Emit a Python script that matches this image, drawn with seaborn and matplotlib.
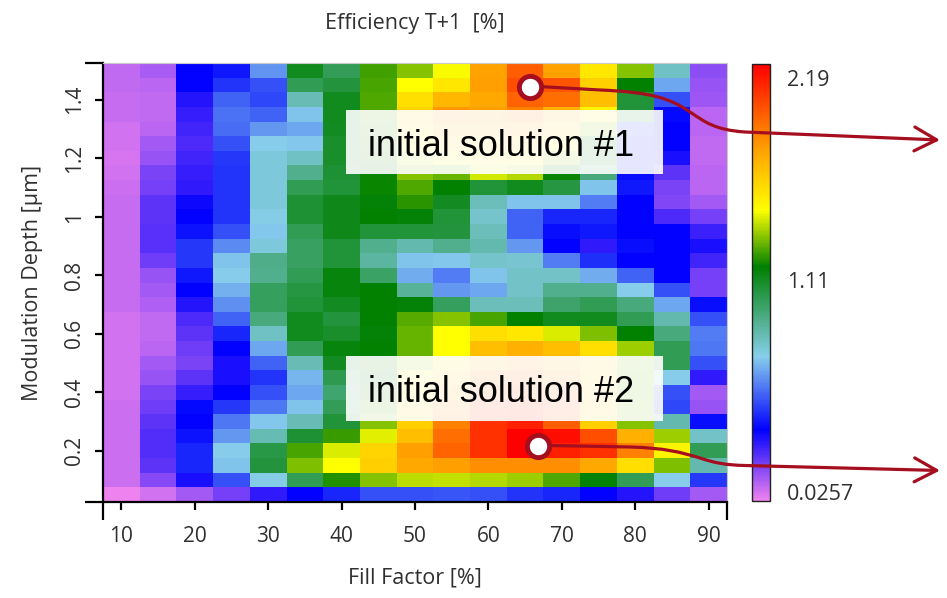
import numpy as np
import pandas as pd
import matplotlib
matplotlib.use("Agg")
import matplotlib.pyplot as plt
import seaborn as sns
from matplotlib.colors import LinearSegmentedColormap
from matplotlib.path import Path
from matplotlib.patches import FancyArrowPatch, Rectangle
from matplotlib.transforms import IdentityTransform

# ---------------- data ----------------
fill_factor = [10, 15, 20, 25, 30, 35, 40, 45, 50, 55, 60, 65, 70, 75, 80, 85, 90]
depth = [1.50, 1.45, 1.40, 1.35, 1.30, 1.25, 1.20, 1.15, 1.10, 1.05,
         1.00, 0.95, 0.90, 0.85, 0.80, 0.75, 0.70, 0.65, 0.60, 0.55,
         0.50, 0.45, 0.40, 0.35, 0.30, 0.25, 0.20, 0.15, 0.10, 0.05]
efficiency = [
    [0.10, 0.13, 0.38, 0.42, 0.64, 1.13, 1.02, 1.26, 1.33, 1.46, 1.76, 1.94, 1.76, 1.54, 1.33, 0.82, 0.17],
    [0.10, 0.11, 0.38, 0.47, 0.52, 1.03, 1.07, 1.265, 1.47, 1.54, 1.77, 1.98, 1.965, 1.62, 1.185, 0.67, 0.16],
    [0.09, 0.10, 0.33, 0.55, 0.50, 0.84, 1.13, 1.27, 1.57, 1.695, 1.75, 1.92, 1.895, 1.67, 1.08, 0.52, 0.15],
    [0.085, 0.10, 0.30, 0.58, 0.55, 0.72, 1.13, 1.27, 1.60, 1.79, 1.77, 1.85, 1.72, 1.50, 1.08, 0.39, 0.11],
    [0.07, 0.11, 0.28, 0.57, 0.65, 0.67, 1.12, 1.26, 1.55, 1.70, 1.72, 1.75, 1.62, 1.35, 0.45, 0.38, 0.11],
    [0.07, 0.14, 0.27, 0.52, 0.74, 0.73, 1.10, 1.24, 1.48, 1.60, 1.62, 1.65, 1.50, 1.20, 0.42, 0.38, 0.10],
    [0.06, 0.16, 0.28, 0.48, 0.77, 0.82, 1.10, 1.22, 1.40, 1.45, 1.50, 1.50, 1.35, 1.10, 0.40, 0.34, 0.10],
    [0.07, 0.20, 0.30, 0.47, 0.77, 0.92, 1.09, 1.20, 1.33, 1.30, 1.42, 1.38, 1.20, 0.95, 0.40, 0.24, 0.11],
    [0.08, 0.21, 0.31, 0.47, 0.77, 1.03, 1.08, 1.20, 1.27, 1.185, 1.08, 1.13, 1.06, 0.72, 0.42, 0.20, 0.11],
    [0.09, 0.24, 0.36, 0.47, 0.77, 1.09, 1.14, 1.17, 1.23, 1.12, 0.83, 0.72, 0.72, 0.60, 0.38, 0.19, 0.14],
    [0.09, 0.24, 0.38, 0.47, 0.75, 1.09, 1.14, 1.19, 1.17, 1.08, 0.80, 0.55, 0.44, 0.44, 0.38, 0.27, 0.21],
    [0.09, 0.25, 0.41, 0.52, 0.73, 1.03, 1.14, 1.08, 1.08, 1.07, 0.83, 0.55, 0.40, 0.42, 0.38, 0.38, 0.29],
    [0.09, 0.25, 0.48, 0.62, 0.77, 1.00, 1.08, 0.92, 0.86, 0.92, 0.86, 0.65, 0.38, 0.31, 0.40, 0.38, 0.34],
    [0.09, 0.22, 0.48, 0.72, 0.93, 1.00, 1.08, 0.88, 0.72, 0.73, 0.80, 0.79, 0.60, 0.46, 0.38, 0.38, 0.28],
    [0.09, 0.16, 0.42, 0.74, 0.92, 1.03, 1.16, 0.99, 0.68, 0.60, 0.72, 0.81, 0.81, 0.68, 0.55, 0.38, 0.21],
    [0.09, 0.14, 0.38, 0.69, 1.01, 1.06, 1.16, 1.19, 0.90, 0.65, 0.67, 0.81, 0.92, 0.92, 0.74, 0.52, 0.21],
    [0.09, 0.12, 0.33, 0.63, 1.01, 1.08, 1.12, 1.19, 1.17, 1.01, 0.83, 0.83, 0.985, 1.03, 0.95, 0.67, 0.40],
    [0.07, 0.10, 0.27, 0.55, 0.95, 1.13, 1.07, 1.19, 1.28, 1.335, 1.265, 1.185, 1.13, 1.13, 1.03, 0.86, 0.52],
    [0.07, 0.10, 0.24, 0.44, 0.82, 1.13, 1.10, 1.17, 1.30, 1.47, 1.57, 1.54, 1.425, 1.32, 1.185, 0.95, 0.60],
    [0.07, 0.11, 0.22, 0.38, 0.67, 1.03, 1.16, 1.19, 1.30, 1.47, 1.67, 1.72, 1.67, 1.57, 1.355, 1.03, 0.59],
    [0.07, 0.14, 0.20, 0.34, 0.55, 0.84, 1.12, 1.22, 1.36, 1.55, 1.72, 1.78, 1.72, 1.60, 1.32, 1.03, 0.52],
    [0.07, 0.16, 0.24, 0.34, 0.47, 0.70, 1.04, 1.20, 1.45, 1.65, 1.85, 1.90, 1.82, 1.62, 1.30, 0.74, 0.31],
    [0.07, 0.20, 0.30, 0.38, 0.52, 0.67, 0.98, 1.22, 1.55, 1.75, 1.95, 2.00, 1.90, 1.62, 1.30, 0.52, 0.14],
    [0.08, 0.22, 0.39, 0.48, 0.59, 0.72, 1.02, 1.28, 1.60, 1.82, 2.03, 2.07, 1.95, 1.62, 1.32, 0.50, 0.16],
    [0.08, 0.24, 0.38, 0.59, 0.73, 0.84, 1.08, 1.33, 1.62, 1.85, 2.06, 2.10, 1.94, 1.62, 1.335, 0.86, 0.40],
    [0.08, 0.26, 0.41, 0.65, 0.85, 1.09, 1.25, 1.43, 1.67, 1.895, 2.06, 2.19, 2.15, 1.98, 1.72, 1.355, 0.81],
    [0.08, 0.26, 0.44, 0.74, 1.05, 1.265, 1.425, 1.60, 1.77, 1.92, 2.06, 2.19, 2.10, 2.06, 1.85, 1.50, 1.03],
    [0.08, 0.24, 0.44, 0.72, 1.07, 1.32, 1.47, 1.62, 1.75, 1.77, 1.81, 1.81, 1.81, 1.75, 1.57, 1.32, 0.86],
    [0.08, 0.18, 0.34, 0.52, 0.75, 1.03, 1.22, 1.33, 1.39, 1.40, 1.38, 1.355, 1.27, 1.17, 1.02, 0.74, 0.48],
    [0.03, 0.07, 0.14, 0.21, 0.31, 0.38, 0.44, 0.52, 0.52, 0.53, 0.52, 0.47, 0.44, 0.38, 0.33, 0.22, 0.14],
]
x_ticks = [10, 20, 30, 40, 50, 60, 70, 80, 90]
y_ticks = [0.2, 0.4, 0.6, 0.8, 1.0, 1.2, 1.4]
y_tick_labels = ["0.2", "0.4", "0.6", "0.8", "1", "1.2", "1.4"]
cbar_min, cbar_max = 0.0257, 2.19
cbar_labels = ["2.19", "1.11", "0.0257"]
solution_labels = ["initial solution #1", "initial solution #2"]
solution_ff = [65.6, 66.7]
solution_depth = [1.444, 0.218]

# ---------------- style ----------------
sns.set_theme(style="white")
plt.rcParams['font.family'] = ['Open Sans', 'DejaVu Sans']
TXT = '#303030'
W, H = 947, 598

fig = plt.figure(figsize=(W / 100, H / 100), dpi=100)
fig.patch.set_facecolor('white')
ax = fig.add_axes([103 / W, 1 - 502 / H, 624 / W, 439 / H])
cax = fig.add_axes([752 / W, 1 - 501 / H, 18 / W, 437 / H])

cmap = LinearSegmentedColormap.from_list(
    "eff", [(0.0, '#EE82EE'), (0.162, '#0000FF'), (0.33, '#87CEEB'),
            (0.536, '#008000'), (0.666, '#FFFF00'), (0.8, '#FFA500'),
            (1.0, '#FF0000')])

df = pd.DataFrame(efficiency, index=depth, columns=fill_factor)
sns.heatmap(df, ax=ax, cmap=cmap, vmin=cbar_min, vmax=cbar_max,
            cbar_ax=cax, cbar_kws=dict(ticks=[]), linewidths=0)

dx = fill_factor[1] - fill_factor[0]
dy = depth[0] - depth[1]


def fx(v):
    return (v - fill_factor[0]) / dx + 0.5


def fy(v):
    return (depth[0] - v) / dy + 0.5


ax.set_xticks([fx(v) for v in x_ticks])
ax.set_xticklabels([str(v) for v in x_ticks], rotation=0)
ax.set_yticks([fy(v) for v in y_ticks])
ax.set_yticklabels(y_tick_labels, rotation=90, va='center')
ax.set_xticks([0, len(fill_factor)], minor=True)
ax.set_yticks([0, len(depth)], minor=True)

ax.tick_params(axis='both', which='both', direction='out', color='black',
               width=1.6, bottom=True, left=True, top=False, right=False)
ax.tick_params(axis='both', which='major', length=6, labelsize=15,
               labelcolor=TXT)
ax.tick_params(axis='x', which='major', pad=11)
ax.tick_params(axis='y', which='major', pad=7)
ax.tick_params(axis='both', which='minor', length=13)

for s in ['left', 'bottom']:
    ax.spines[s].set_visible(True)
    ax.spines[s].set_color('black')
    ax.spines[s].set_linewidth(1.6)
for s in ['top', 'right']:
    ax.spines[s].set_visible(True)
    ax.spines[s].set_color('#C8C8C8')
    ax.spines[s].set_linewidth(0.8)

ax.set_xlabel("Fill Factor [%]", fontsize=15.5, color=TXT)
ax.set_ylabel("Modulation Depth [µm]", fontsize=15.5, color=TXT)
ax.xaxis.set_label_coords(0.5, (502 - 578) / 439)
ax.xaxis.label.set_va('center')
ax.yaxis.set_label_coords((33 - 103) / 624, 0.5)
ax.yaxis.label.set_va('center')

fig.text(415 / W, 1 - 23 / H, "Efficiency T+1  [%]", ha='center',
         va='center', fontsize=15.5, color=TXT)

# colorbar
cbar = ax.collections[0].colorbar
cbar.outline.set_edgecolor('#202020')
cbar.outline.set_linewidth(1.0)
label_pos = [(501 - 81) / 437, 0.5, (501 - 494) / 437]
for lab, pos in zip(cbar_labels, label_pos):
    cax.text((787 - 752) / 18, pos, lab, transform=cax.transAxes,
             ha='left', va='center', fontsize=15.5, color=TXT)

# annotation boxes
boxes = [(346, 110, 663, 174, 156), (346, 356, 663, 421, 402)]
for (x0, y0, x1, y1, base), lab in zip(boxes, solution_labels):
    fig.add_artist(Rectangle((x0 / W, 1 - y1 / H), (x1 - x0) / W, (y1 - y0) / H,
                             transform=fig.transFigure, facecolor='white',
                             edgecolor='none', alpha=0.9, zorder=5))
    fig.text((x0 + x1) / 2 / W - 3 / W, 1 - base / H, lab, ha='center', va='baseline',
             fontsize=26, color='black', family=['Liberation Sans', 'DejaVu Sans'],
             zorder=6)

# solution markers
LINE = '#A50E1F'
ax.plot([fx(v) for v in solution_ff], [fy(v) for v in solution_depth], 'o',
        ms=16, mfc='white', mec=LINE, mew=3.5, zorder=12, clip_on=False)

# curved arrows leaving each solution marker (image pixel geometry)
paths_px = [
    [(600, 90), (650, 92), (670, 98), (690, 112), (705, 122), (715, 130), (745, 132), (940, 140)],
    [(630, 447), (665, 448), (680, 452), (700, 458), (715, 463), (725, 465), (745, 465.5), (940, 470.5)],
]
codes = [Path.MOVETO, Path.LINETO, Path.CURVE4, Path.CURVE4, Path.CURVE4,
         Path.CURVE4, Path.CURVE4, Path.CURVE4, Path.LINETO]
marker_outer_radius_px = 13
fig.canvas.draw()
for sf, sd, pts in zip(solution_ff, solution_depth, paths_px):
    sx, sy = ax.transData.transform((fx(sf), fy(sd)))
    verts = [(sx + marker_outer_radius_px, sy)] + [(px, H - py) for px, py in pts]
    arr = FancyArrowPatch(path=Path(verts, codes),
                          arrowstyle='->,head_length=0.8,head_width=0.43',
                          mutation_scale=20, color=LINE, lw=2.3,
                          shrinkA=0, shrinkB=0, transform=IdentityTransform(),
                          zorder=11)
    fig.add_artist(arr)

fig.savefig("out.png", dpi=100, facecolor='white')
